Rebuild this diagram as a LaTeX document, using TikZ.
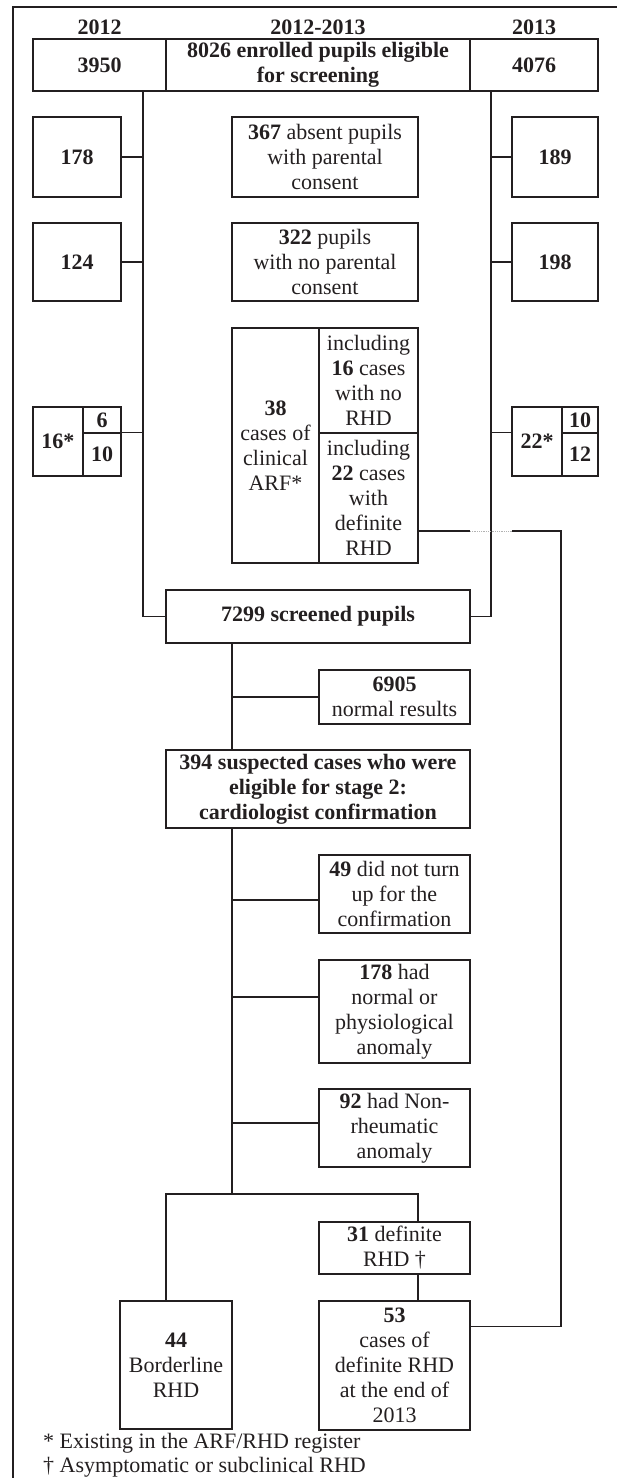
\documentclass[tikz,border=0pt]{standalone}
\usepackage{fontspec}
\setmainfont{Liberation Serif}
\definecolor{ink}{HTML}{231F20}
\newcommand\boxfont{\fontsize{22}{25}\selectfont}
\begin{document}
\begin{tikzpicture}[x=1pt,y=-1pt,
  line/.style={draw=ink, line width=1.5pt},
  thinline/.style={draw=ink, line width=1.1pt},
  box/.style={line, inner sep=0pt, align=center, text=ink, font=\boxfont},
  label/.style={inner sep=0pt, text=ink, font=\boxfont\bfseries},
  note/.style={inner sep=0pt, anchor=west, text=ink, font=\boxfont},
  hop/.style={draw=gray!60, line width=0.8pt, densely dotted}]

\useasboundingbox (0,0) rectangle (617,1478);

% outer frame
\draw[line] (13,1478) -- (13,7) -- (617,7);

% column headings
\node[label] (h12) at (99.5,27) {2012};
\node[label] (hall) at (318,27) {2012-2013};
\node[label] (h13) at (534,27) {2013};

% enrolled pupils
\node[box, minimum width=133, minimum height=52, font=\boxfont\bfseries] (y12) at (99.5,65) {3950};
\node[box, minimum width=304, minimum height=52, font=\boxfont\bfseries] (yall) at (318,65) {8026 enrolled pupils eligible\\for screening};
\node[box, minimum width=128, minimum height=52, font=\boxfont\bfseries] (y13) at (534,65) {4076};

% absent pupils
\node[box, minimum width=88, minimum height=80, font=\boxfont\bfseries] (b178) at (77,157) {178};
\node[box, minimum width=186, minimum height=80] (b367) at (325,157) {\textbf{367} absent pupils\\with parental\\consent};
\node[box, minimum width=86, minimum height=80, font=\boxfont\bfseries] (b189) at (555,157) {189};

% no parental consent
\node[box, minimum width=88, minimum height=78, font=\boxfont\bfseries] (b124) at (77,262) {124};
\node[box, minimum width=186, minimum height=78] (b322) at (325,262) {\textbf{322} pupils\\with no parental\\consent};
\node[box, minimum width=86, minimum height=78, font=\boxfont\bfseries] (b198) at (555,262) {198};

% clinical ARF
\node[box, minimum width=87, minimum height=235] (arfL) at (275.5,445.5) {\textbf{38}\\cases of\\clinical\\ARF*};
\node[box, minimum width=99, minimum height=105] (arfT) at (368.5,380.5) {including\\\textbf{16} cases\\with no\\RHD};
\node[box, minimum width=99, minimum height=130] (arfB) at (368.5,498) {including\\\textbf{22} cases\\with\\definite\\RHD};

\node[box, minimum width=50, minimum height=69, font=\boxfont\bfseries] (c16) at (58,441.5) {16*};
\node[box, minimum width=38, minimum height=26, font=\boxfont\bfseries] (c16t) at (102,420) {6};
\node[box, minimum width=38, minimum height=43, font=\boxfont\bfseries] (c16b) at (102,454.5) {10};

\node[box, minimum width=50, minimum height=69, font=\boxfont\bfseries] (c22) at (537,441.5) {22*};
\node[box, minimum width=36, minimum height=26, font=\boxfont\bfseries] (c22t) at (580,420) {10};
\node[box, minimum width=36, minimum height=43, font=\boxfont\bfseries] (c22b) at (580,454.5) {12};

% screening
\node[box, minimum width=304, minimum height=53, font=\boxfont\bfseries] (scr) at (318,616.5) {7299 screened pupils};
\node[box, minimum width=151, minimum height=54] (b6905) at (394.5,697) {\textbf{6905}\\normal results};
\node[box, minimum width=304, minimum height=78, font=\boxfont\bfseries] (b394) at (318,789) {394 suspected cases who were\\eligible for stage 2:\\cardiologist confirmation};

% confirmation outcomes
\node[box, minimum width=151, minimum height=78] (b49) at (394.5,894) {\textbf{49} did not turn\\up for the\\confirmation};
\node[box, minimum width=151, minimum height=103] (b178h) at (394.5,1011.5) {\textbf{178} had\\normal or\\physiological\\anomaly};
\node[box, minimum width=151, minimum height=78, thinline] (b92) at (394.5,1128) {\textbf{92} had Non-\\rheumatic\\anomaly};
\node[box, minimum width=151, minimum height=52] (b31) at (394.5,1248) {\textbf{31} definite\\RHD \textdagger};
\node[box, minimum width=112, minimum height=128] (b44) at (176,1365) {\textbf{44}\\Borderline\\RHD};
\node[box, minimum width=151, minimum height=129] (b53) at (394.5,1365.5) {\textbf{53}\\cases of\\definite RHD\\at the end of\\2013};

% trunk and branch points
\coordinate (L) at (143,91);
\coordinate (R) at (491,91);
\coordinate (S) at (232,0);
\coordinate (bl) at (166,1194);
\coordinate (br) at (418,1194);
\coordinate (jL) at (470,531);
\coordinate (jR) at (512,531);
\coordinate (rc) at (561,531);
\coordinate (a22) at ([yshift=-33pt]arfB.east);
\coordinate (e53) at ([yshift=-26pt]b53.north east);

% yearly trunks into the screened pupils
\draw[line] (L) |- (scr.west);
\draw[thinline] (R) |- (scr.east);
\draw[line] (b178.east) -- (b178.east -| L);
\draw[line] (b124.east) -- (b124.east -| L);
\draw[line] (c16b.north east) -- (c16b.north east -| L);
\draw[line] (b189.west) -- (b189.west -| R);
\draw[line] (b198.west) -- (b198.west -| R);
\draw[line] (c22.west |- c22b.north) -- (c22b.north -| R);

% ARF cases carried to the final count
\draw[thinline] (a22) -- (jL);
\draw[hop] (jL) -- (jR);
\draw[line] (jR) -- (rc) -- (rc |- e53) -- (e53);

% stage 2 spine
\draw[line] (scr.south -| S) -- (b394.north -| S);
\draw[line] (b6905.west) -- (b6905.west -| S);
\draw[line] (b394.south -| S) -- (S |- bl);
\draw[line] ([yshift=-6pt]b49.west) -- ([yshift=-6pt]b49.west -| S);
\draw[line] ([yshift=14.5pt]b178h.west) -- ([yshift=14.5pt]b178h.west -| S);
\draw[line] ([yshift=5pt]b92.west) -- ([yshift=5pt]b92.west -| S);

% final split
\draw[thinline] (bl |- b44.north) -- (bl) -- (br) -- (br |- b31.north);
\draw[line] (br |- b31.south) -- (br |- b53.north);

% footnotes
\node[note] (fn1) at (43,1443) {* Existing in the ARF/RHD register};
\node[note] (fn2) at (43,1467) {\textdagger{} Asymptomatic or subclinical RHD};
\end{tikzpicture}
\end{document}
